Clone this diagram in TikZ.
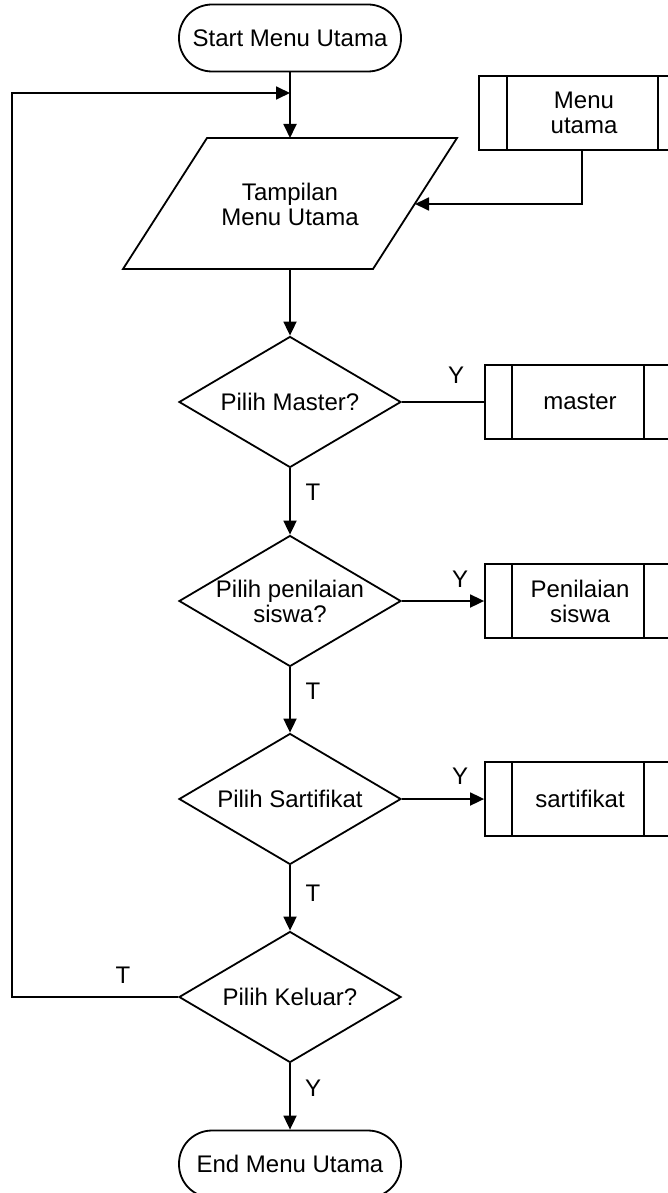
\documentclass[tikz,border=0pt]{standalone}
\usepackage{fontspec}
\setmainfont{Liberation Sans}
\usetikzlibrary{arrows.meta,shapes.geometric}
\begin{document}
\begin{tikzpicture}[x=1pt,y=-1pt,
  font=\fontsize{24}{25}\selectfont,
  wire/.style={line width=1.8pt, line join=miter},
  arr/.style={wire, -{Triangle[length=14pt,width=13pt]}},
  term/.style={draw, wire, rectangle, rounded corners=33pt, minimum width=222pt, minimum height=67pt, inner sep=0pt},
  dec/.style={draw, wire, diamond, minimum width=222pt, minimum height=131pt, inner sep=0pt},
  subr/.style={draw, wire, rectangle, minimum height=74pt, inner sep=0pt},
  lbl/.style={inner sep=0pt, align=center}
]
\clip (0,0) rectangle (668,1193);

% terminals
\node[term] (start) at (290,38) {Start Menu Utama};
\node[term] (stop) at (290,1164) {End Menu Utama};

% display (parallelogram)
\coordinate (p1) at (207,138);
\coordinate (p2) at (457,138);
\coordinate (p3) at (373,269);
\coordinate (p4) at (123,269);
\draw[wire] (p1) -- (p2) -- (p3) -- (p4) -- cycle;
\node[lbl] (disp) at (290,204) {Tampilan\\Menu Utama};
\coordinate (pin) at (290,138);
\coordinate (pout) at (290,269);
\coordinate (pside) at (415,204);

% decisions
\node[dec, label={[lbl]center:Pilih Master?}] (d1) at (290,402) {};
\node[dec, label={[lbl]center:Pilih penilaian\\siswa?}] (d2) at (290,601) {};
\node[dec, label={[lbl]center:Pilih Sartifikat}] (d3) at (290,799) {};
\node[dec, label={[lbl]center:Pilih Keluar?}] (d4) at (290,997) {};

% predefined processes
\node[subr, minimum width=207pt] (menu) at (582.5,113) {};
\node[lbl] (menut) at (584,113) {Menu\\utama};
\draw[wire] ([xshift=29pt]menu.north west) -- ([xshift=29pt]menu.south west);
\draw[wire] ([xshift=-29pt]menu.north east) -- ([xshift=-29pt]menu.south east);

\node[subr, minimum width=186pt] (master) at (578,402) {};
\node[lbl] (mastert) at (580,402) {master};
\node[subr, minimum width=186pt] (nilai) at (578,601) {};
\node[lbl] (nilait) at (580,601) {Penilaian\\siswa};
\node[subr, minimum width=186pt] (sert) at (578,799) {};
\node[lbl] (sertt) at (580,799) {sartifikat};
\foreach \b in {master,nilai,sert}{
  \draw[wire] ([xshift=28pt]\b.north west) -- ([xshift=28pt]\b.south west);
  \draw[wire] ([xshift=-28pt]\b.north east) -- ([xshift=-28pt]\b.south east);
}

% loop-back corner points
\coordinate (lb) at (12,997);
\coordinate (lt) at (12,93);
\coordinate (lj) at (290,93);
\coordinate (mb) at (582,204);

% connectors
\draw[arr] (start.south) -- (pin);
\draw[arr] (d4.west) -- (lb) -- (lt) -- (lj);
\draw[arr] (menu.south -| mb) -- (mb) -- (pside);
\draw[arr] (pout) -- (d1.north);
\draw[wire] (d1.east) -- (master.west);
\draw[arr] (d1.south) -- (d2.north);
\draw[arr] (d2.east) -- (nilai.west);
\draw[arr] (d2.south) -- (d3.north);
\draw[arr] (d3.east) -- (sert.west);
\draw[arr] (d3.south) -- (d4.north);
\draw[arr] (d4.south) -- (stop.north);

% branch labels
\node[lbl] (y1) at (456,375) {Y};
\node[lbl] (y2) at (460,579) {Y};
\node[lbl] (y3) at (460,776) {Y};
\node[lbl] (t1) at (313,492) {T};
\node[lbl] (t2) at (313,691) {T};
\node[lbl] (t3) at (313,893) {T};
\node[lbl] (t4) at (123,975) {T};
\node[lbl] (y4) at (313,1088) {Y};
\end{tikzpicture}
\end{document}
